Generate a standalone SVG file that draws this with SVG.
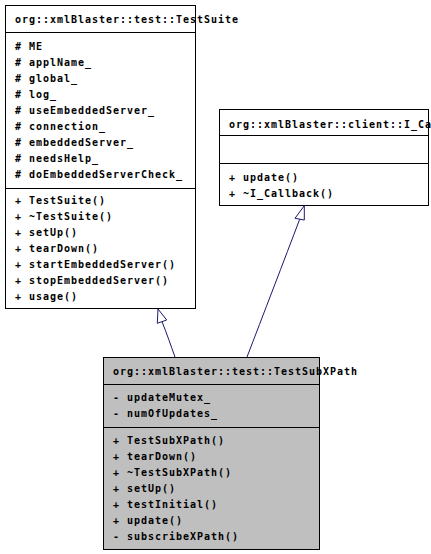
<svg xmlns="http://www.w3.org/2000/svg" width="431" height="554" viewBox="0 0 431 554">
<style>
.box{fill:#ffffff;stroke:#000000;stroke-width:1}
.grey{fill:#bfbfbf}
.sep{stroke:#000000;stroke-width:1}
text{font-family:"DejaVu Sans Mono","Liberation Mono",monospace;font-size:10px;font-weight:bold;letter-spacing:0.98px;fill:#000000}
.edge{fill:none;stroke:#191970;stroke-width:1}
.head{fill:#ffffff;stroke:#191970;stroke-width:1}
</style>
<rect width="431" height="554" fill="#ffffff"/>
<g id="TestSuite">
<rect class="box" x="5.5" y="5.5" width="190" height="303"/>
<line class="sep" x1="5.5" y1="32.5" x2="195.5" y2="32.5"/>
<line class="sep" x1="5.5" y1="188.5" x2="195.5" y2="188.5"/>
<text x="15" y="23">org::xmlBlaster::test::TestSuite</text>
<text x="15" y="50"># ME</text>
<text x="15" y="66"># applName_</text>
<text x="15" y="82"># global_</text>
<text x="15" y="98"># log_</text>
<text x="15" y="114"># useEmbeddedServer_</text>
<text x="15" y="130"># connection_</text>
<text x="15" y="146"># embeddedServer_</text>
<text x="15" y="162"># needsHelp_</text>
<text x="15" y="178"># doEmbeddedServerCheck_</text>
<text x="15" y="204">+ TestSuite()</text>
<text x="15" y="220">+ ~TestSuite()</text>
<text x="15" y="236">+ setUp()</text>
<text x="15" y="252">+ tearDown()</text>
<text x="15" y="268">+ startEmbeddedServer()</text>
<text x="15" y="284">+ stopEmbeddedServer()</text>
<text x="15" y="300">+ usage()</text>
</g>
<g id="I_Callback">
<rect class="box" x="219.5" y="109.5" width="209" height="96"/>
<line class="sep" x1="219.5" y1="135.5" x2="428.5" y2="135.5"/>
<line class="sep" x1="219.5" y1="163.5" x2="428.5" y2="163.5"/>
<text x="229" y="128">org::xmlBlaster::client::I_Callback</text>
<text x="229" y="181">+ update()</text>
<text x="229" y="197">+ ~I_Callback()</text>
</g>
<g id="TestSubXPath">
<rect class="box grey" x="103.5" y="357.5" width="216" height="192"/>
<line class="sep" x1="103.5" y1="384.5" x2="319.5" y2="384.5"/>
<line class="sep" x1="103.5" y1="427.5" x2="319.5" y2="427.5"/>
<text x="113" y="375">org::xmlBlaster::test::TestSubXPath</text>
<text x="113" y="401">- updateMutex_</text>
<text x="113" y="417">- numOfUpdates_</text>
<text x="113" y="444">+ TestSubXPath()</text>
<text x="113" y="460">+ tearDown()</text>
<text x="113" y="476">+ ~TestSubXPath()</text>
<text x="113" y="492">+ setUp()</text>
<text x="113" y="508">+ testInitial()</text>
<text x="113" y="524">+ update()</text>
<text x="113" y="540">- subscribeXPath()</text>
</g>
<g id="connectors">
<path class="edge" d="M175,357 C171,346 167,334 162,321.7"/>
<polygon class="head" points="158,309 157.3,323.3 166.7,320"/>
<path class="edge" d="M247,357 C262,318 285,258 299.7,219.2"/>
<polygon class="head" points="304.3,205.7 295,218.3 304.3,220"/>
</g>
</svg>
